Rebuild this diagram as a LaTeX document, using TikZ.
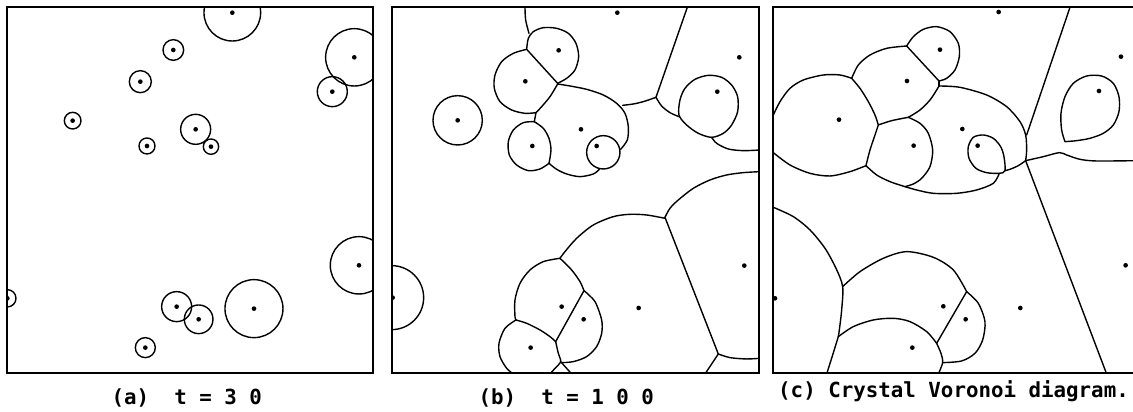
\documentclass[tikz,border=0pt]{standalone}
\usepackage{fontspec}
\setmonofont{DejaVu Sans Mono}
\tikzset{
  crystal/.style={line width=1.4pt, line join=round, line cap=round},
  border/.style={line width=2pt},
  caption/.style={font=\ttfamily\bfseries\fontsize{20.8pt}{24pt}\selectfont, inner sep=0pt, anchor=base west}
}
\newcommand{\seeddot}[2]{\fill (#1,#2) circle (7);}

\begin{document}
\begin{tikzpicture}[x=1pt,y=-1pt]
  \useasboundingbox (0,0) rectangle (1133,412);

  % (a) t=30
  \begin{scope}[scale=0.3333]
    \begin{scope}
      \clip (20,22) rectangle (1118,1120);
      \foreach \x/\y/\r in {697/38/85, 520/150/31, 421/245/33, 218/362/25, 441/438/24,
          587/388/45, 633/440/23, 1063/172/86, 997/275/45, 1077/796/86, 22/895/26,
          530/920/45, 596/958/43, 762/926/87, 436/1043/30}
        {\draw[crystal] (\x,\y) circle (\r); \seeddot{\x}{\y}}
    \end{scope}
    \draw[border] (20,22) rectangle (1118,1120);
  \end{scope}

  % (b) t=100
  \begin{scope}[shift={(380,0)},scale=0.3333]
    \begin{scope}
      \clip (35,22) rectangle (1138,1120);
      \draw[crystal] (233,361) circle (74);
      \draw[crystal] (35,893) circle (96);
      % upper cluster
      \draw[crystal] plot[smooth] coordinates {(435,22) (437,60) (447,100)};
      \draw[crystal] plot[smooth] coordinates {(440,148) (445,115) (460,95) (490,83) (530,85) (565,100) (588,130) (596,170) (585,210) (560,235) (533,250)};
      \draw[crystal] (440,148) -- (533,250);
      \draw[crystal] plot[smooth] coordinates {(440,148) (400,160) (365,185) (345,225) (343,265) (360,305) (395,330) (435,340) (468,338)};
      \draw[crystal] plot[smooth] coordinates {(533,252) (510,290) (485,320) (468,338)};
      \draw[crystal] (468,338) -- (463,365);
      \draw[crystal] plot[smooth] coordinates {(533,252) (570,258) (620,268) (670,285) (710,310) (735,340) (745,380) (742,420) (722,448)};
      \draw[crystal] (670,457) circle (50);
      \draw[crystal] plot[smooth] coordinates {(658,508) (640,522) (600,530) (560,522) (530,508) (507,490)};
      \draw[crystal] plot[smooth] coordinates {(463,365) (430,368) (400,390) (385,425) (388,465) (410,495) (445,512) (480,507) (507,490)};
      \draw[crystal] plot[smooth] coordinates {(463,365) (490,385) (507,415) (513,450) (507,490)};
      % right part
      \draw[crystal] (922,22) -- (828,292);
      \draw[crystal] plot[smooth] coordinates {(828,292) (790,305) (760,312) (728,316)};
      \draw[crystal] plot[smooth] coordinates {(828,292) (845,318) (870,338) (897,350)};
      \draw[crystal] plot[smooth cycle] coordinates {(897,345) (900,300) (915,265) (945,238) (985,226) (1025,232) (1055,255) (1073,290) (1073,335) (1055,375) (1030,400) (995,412) (955,400) (920,375)};
      \draw[crystal] plot[smooth] coordinates {(995,412) (1010,430) (1045,447) (1090,452) (1140,450)};
      % lower cluster
      \draw[crystal] plot[smooth] coordinates {(1140,515) (1090,518) (1040,525) (990,540) (940,565) (895,600) (870,625) (855,652)};
      \draw[crystal] (855,652) -- (1015,1062);
      \draw[crystal] plot[smooth] coordinates {(1015,1062) (1050,1073) (1100,1077) (1140,1075)};
      \draw[crystal] (1015,1062) -- (975,1122);
      \draw[crystal] plot[smooth] coordinates {(855,655) (800,645) (750,643) (700,650) (640,675) (590,715) (555,755) (540,775)};
      \draw[crystal] plot[smooth] coordinates {(540,775) (490,785) (450,810) (420,850) (405,900) (405,950) (408,960)};
      \draw[crystal] plot[smooth] coordinates {(540,775) (575,810) (600,845) (612,872)};
      \draw[crystal] (612,872) -- (527,1025);
      \draw[crystal] plot[smooth] coordinates {(612,872) (645,905) (665,960) (665,1000) (650,1040) (620,1070) (580,1085) (545,1088)};
      \draw[crystal] plot[smooth] coordinates {(408,960) (440,970) (480,990) (510,1010) (527,1025)};
      \draw[crystal] plot[smooth] coordinates {(408,960) (375,985) (357,1030) (360,1070) (380,1105) (400,1122)};
      \draw[crystal] plot[smooth] coordinates {(527,1025) (535,1060) (542,1085) (525,1105) (510,1122)};
      \draw[crystal] (542,1085) -- (575,1122);
      \foreach \x/\y in {712/38, 536/151, 436/244, 233/361, 1078/172, 1012/275, 603/388,
          457/438, 650/438, 1093/797, 38/893, 545/920, 611/958, 776/924, 452/1043}
        {\seeddot{\x}{\y}}
    \end{scope}
    \draw[border] (35,22) rectangle (1138,1120);
  \end{scope}

  % (c) crystal Voronoi diagram
  \begin{scope}[shift={(760,0)},scale=0.3333]
    \begin{scope}
      \clip (40,22) rectangle (1125,1120);
      \draw[crystal] (930,22) -- (800,405);
      \draw[crystal] (797,482) -- (1040,1122);
      \draw[crystal] plot[smooth] coordinates {(537,258) (600,262) (680,285) (740,320) (780,365) (797,405) (800,450) (797,482)};
      \draw[crystal] plot[smooth] coordinates {(797,482) (850,470) (898,458) (920,465) (960,478) (1010,483) (1130,482)};
      \draw[crystal] plot[smooth] coordinates {(797,482) (775,497) (750,508) (735,512)};
      \draw[crystal] plot[smooth] coordinates {(718,520) (700,550) (650,570) (590,580) (520,580) (470,570) (435,560)};
      \draw[crystal] plot[smooth cycle] coordinates {(735,512) (732,470) (722,440) (700,415) (670,405) (640,412) (625,440) (627,475) (648,505) (680,518) (718,520)};
      \draw[crystal] plot[smooth] coordinates {(915,425) (905,390) (903,340) (915,290) (940,250) (980,228) (1025,228) (1060,250) (1077,290) (1077,335) (1060,375) (1030,400) (990,415) (950,422) (915,425)};
      % upper-left cluster
      \draw[crystal] plot[smooth] coordinates {(440,138) (460,110) (490,88) (530,80) (570,95) (595,130) (598,170) (585,210) (560,235) (537,243)};
      \draw[crystal] (440,138) -- (537,243);
      \draw[crystal] (537,243) -- (537,258);
      \draw[crystal] plot[smooth] coordinates {(275,235) (295,195) (330,165) (380,145) (440,138)};
      \draw[crystal] plot[smooth] coordinates {(537,258) (530,270) (510,300) (480,330) (445,352)};
      \draw[crystal] plot[smooth] coordinates {(275,235) (300,265) (325,305) (345,345) (355,375)};
      \draw[crystal] plot[smooth] coordinates {(40,345) (60,305) (90,265) (130,240) (190,225) (240,225) (275,235)};
      \draw[crystal] plot[smooth] coordinates {(40,458) (90,495) (150,520) (210,528) (270,515) (318,497)};
      \draw[crystal] plot[smooth] coordinates {(318,497) (330,450) (345,405) (355,375)};
      \draw[crystal] plot[smooth] coordinates {(355,375) (395,362) (445,352)};
      \draw[crystal] plot[smooth] coordinates {(445,352) (480,370) (505,400) (518,450) (510,500) (485,535) (460,552) (435,560)};
      \draw[crystal] plot[smooth] coordinates {(318,497) (350,525) (390,545) (435,560)};
      % lower-left cluster
      \draw[crystal] plot[smooth] coordinates {(40,622) (100,650) (150,690) (195,745) (228,805) (248,860) (245,930) (238,990) (235,1010)};
      \draw[crystal] plot[smooth] coordinates {(235,1010) (218,1065) (200,1122)};
      \draw[crystal] plot[smooth] coordinates {(248,860) (300,815) (370,775) (440,755) (520,772) (580,810) (620,875)};
      \draw[crystal] (620,875) -- (530,1030);
      \draw[crystal] plot[smooth] coordinates {(620,875) (655,910) (675,965) (668,1020) (645,1060) (605,1083) (548,1088)};
      \draw[crystal] plot[smooth] coordinates {(235,1010) (280,980) (340,960) (400,955) (450,965) (500,995) (530,1030)};
      \draw[crystal] plot[smooth] coordinates {(530,1030) (543,1060) (548,1088) (535,1122)};
      \foreach \x/\y in {716/36, 540/149, 441/243, 237/359, 1083/170, 1017/273, 607/387,
          461/437, 653/437, 1097/796, 45/895, 550/919, 617/958, 781/924, 457/1043}
        {\seeddot{\x}{\y}}
    \end{scope}
    \draw[border] (40,22) rectangle (1125,1120);
  \end{scope}

  \node[caption] (capa) at (111.5,404) {(a)~~t~=~3~0};
  \node[caption] (capb) at (478.5,404) {(b)~~t~=~1~0~0};
  \node[caption] (capc) at (778,397) {(c)~Crystal~Voronoi~diagram.};
\end{tikzpicture}
\end{document}
